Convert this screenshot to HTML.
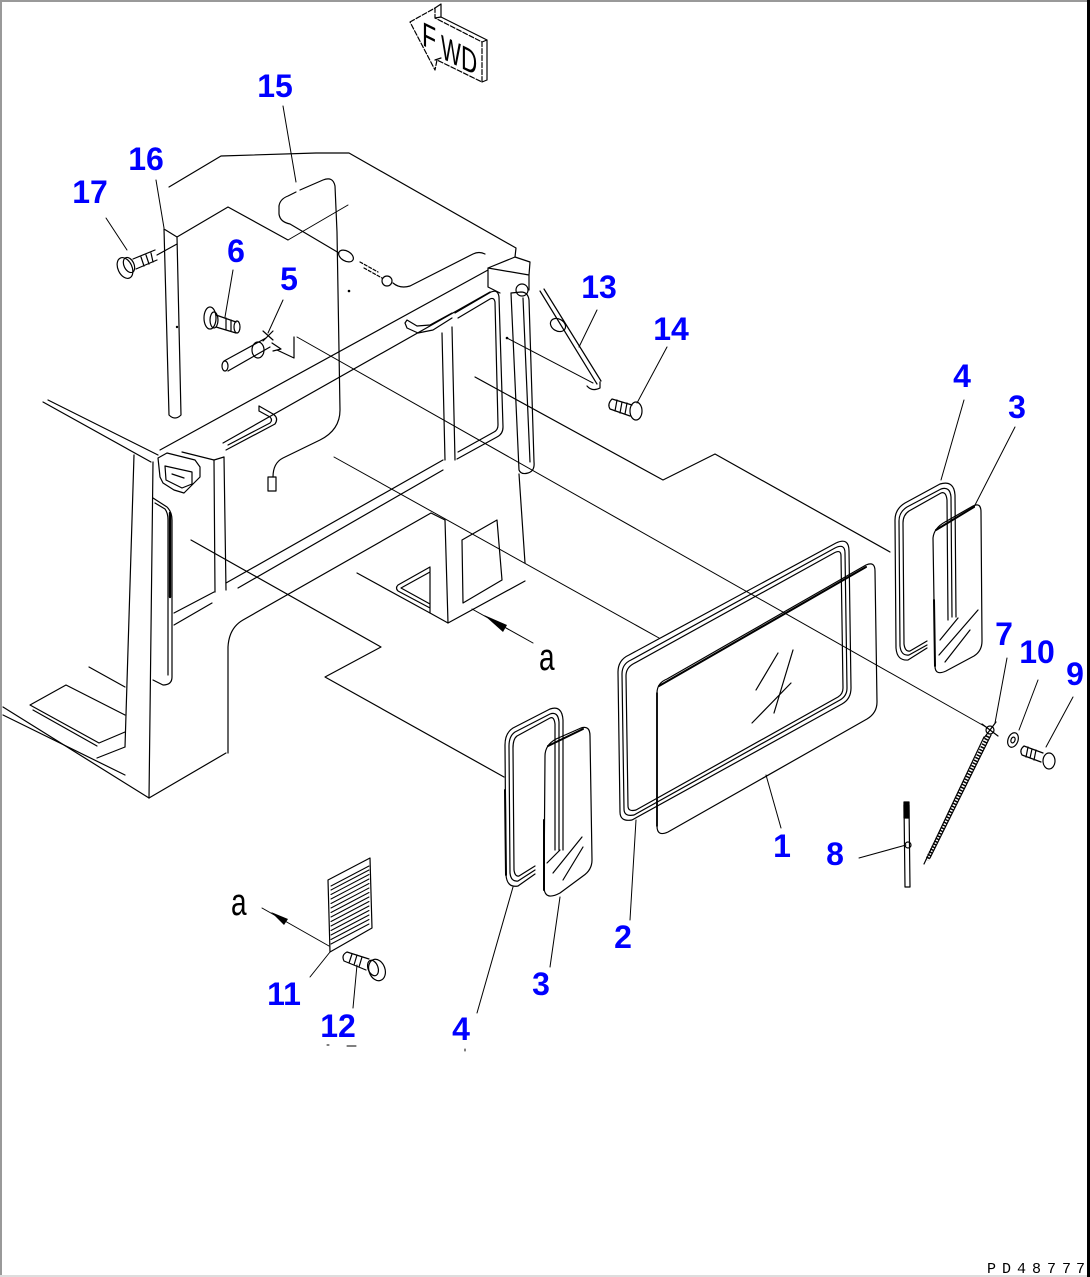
<!DOCTYPE html>
<html><head><meta charset="utf-8">
<style>
html,body{margin:0;padding:0;background:#fff;}
svg{display:block;}
.l{fill:none;stroke:#000;stroke-width:1.2;stroke-linejoin:round;stroke-linecap:round;}
.t{fill:none;stroke:#000;stroke-width:1;stroke-linecap:round;}
.n{font-family:"Liberation Sans",sans-serif;font-weight:bold;font-size:32px;fill:#0000ff;text-anchor:middle;}
.a{font-family:"Liberation Sans",sans-serif;font-size:28px;fill:#000;}
.f{font-family:"Liberation Sans",sans-serif;font-size:34px;fill:#000;}
</style></head><body>
<svg width="1090" height="1277" viewBox="0 0 1090 1277" xmlns="http://www.w3.org/2000/svg">
<rect width="1090" height="1277" fill="#fff"/>
<rect x="0" y="0" width="1090" height="2" fill="#999"/>
<rect x="0" y="0" width="2" height="1277" fill="#999"/>
<rect x="1087" y="0" width="3" height="1277" fill="#000"/>
<rect x="0" y="1275" width="1087" height="2" fill="#ddd"/>

<!-- FWD arrow -->
<g class="l">
<path d="M410,22 L435,8 L435,18 L482,42 L482,82 L437,60 L435,70 Z" stroke-dasharray="5 2"/>
<path d="M435,8 L441,4 L441,17 L487,40 L487,80 L482,82 M441,17 L435,18 M482,42 L487,40 M435,60 L441,58"/>
</g>
<text class="f" transform="translate(422,45) skewY(26) scale(0.68,1)">F</text>
<text class="f" transform="translate(441,58) skewY(26) scale(0.62,1)">W</text>
<text class="f" transform="translate(461,68) skewY(26) scale(0.66,1)">D</text>

<!-- Cab structure -->
<g class="l">
<polyline points="169,187 221,156 316,153 349,153 516,248 515,257"/>
<polyline points="177,237 228,207 288,240"/>
<path d="M164,229 L177,237 M164,229 L169,415 Q175,421 181,415 L177,237"/>
<path d="M279,206 L279,214 Q280,222 290,224 L339,253"/>
<path d="M279,206 Q280,199 288,196 L296,192 M300,190 L323,180 Q333,176 335,186 L337,232 L340,410 Q340,430 320,440 L283,458 Q273,463 273,477"/>
<rect x="268" y="477" width="8" height="14"/>
<ellipse cx="346" cy="256" rx="8" ry="5" transform="rotate(30 346 256)"/>
<path d="M360,262 L378,272 M364,268 L382,278" stroke-dasharray="3 2"/>
<circle cx="387" cy="281" r="5"/>
<path d="M393,283 Q400,289 410,286 L473,254 Q479,251 485,254"/>
<path d="M488,268 L515,257 L530,262 L529,275 M488,268 L529,275 L529,290 M488,268 L488,287 L500,293"/>
<circle cx="522" cy="290" r="6"/>
<line x1="160" y1="450" x2="488" y2="270"/>
<line x1="223" y1="443" x2="490" y2="292"/>
<path d="M259,406 L273,414 Q279,418 275,424 L226,450 M259,411 L270,417 Q273,420 270,423 L228,445 M259,406 L259,411"/>
<path d="M405,323 L407,328 L418,333 L433,330 L452,318 M405,323 L407,320 L417,326 L430,325 L452,313"/>
<path d="M442,333 L445,460 M452,327 L455,460"/>
<path d="M455,313 L491,292 Q498,289 499,297 L503,427 Q503,434 497,437 L457,459"/>
<path d="M458,318 L490,299 Q494,297 495,302 L498,425 Q498,430 494,432 L458,452"/>
<path d="M511,293 L519,470 Q521,475 528,473 Q535,471 534,462 L529,300 Q528,292 521,292 Z M523,298 L530,462"/>
<line x1="519" y1="474" x2="525" y2="563"/>
<line x1="43" y1="402" x2="151" y2="462"/>
<line x1="48" y1="400" x2="158" y2="455"/>
<line x1="134" y1="455" x2="125" y2="747"/>
<line x1="153" y1="462" x2="149" y2="798"/>
<line x1="149" y1="798" x2="226" y2="753"/>
<path d="M158,458 L167,453 L195,460 L200,467 L200,477 L184,493 L174,490 L163,483 L160,477 Z M165,466 L192,472 L192,484 M165,466 L166,480 L182,488 L192,484 M172,474 L184,478"/>
<path d="M182,452 L214,460 L224,457"/>
<path d="M153,498 L167,507 Q172,512 172,520 L172,677 Q172,685 163,685 L153,680"/>
<path d="M155,503 L165,509 Q168,513 168,520 L168,675"/>
<line x1="170" y1="513" x2="170" y2="597" stroke-width="2.4"/>
<path d="M214,460 L215,592 M224,457 L226,590"/>
<path d="M174,613 L214,592 M174,625 L212,603"/>
<line x1="226" y1="583" x2="443" y2="460"/>
<line x1="238" y1="588" x2="443" y2="470"/>
<path d="M228,753 L228,647 Q229,628 243,620 L431,513 L445,520"/>
<line x1="3" y1="707" x2="149" y2="798"/>
<line x1="3" y1="715" x2="125" y2="775"/>
<path d="M30,705 L66,685 L125,715 M30,705 L99,743 L125,732 M33,710 L97,746"/>
<line x1="89" y1="667" x2="125" y2="687"/>
<line x1="97" y1="758" x2="125" y2="747"/>
<path d="M445,520 L448,623 L525,581"/>
<path d="M430,567 L430,613 L448,623 M430,567 L398,585 Q395,588 398,591 L430,608 M430,572 L401,588 L430,604"/>
<line x1="357" y1="573" x2="430" y2="613"/>
<path d="M462,540 L497,520 L502,580 L463,603 Z"/>
<polyline points="191,540 381,647 325,677 504,777"/>
<polyline points="475,377 663,480 715,454 890,552"/>
</g>
<g class="t">
<line x1="288" y1="240" x2="348" y2="205"/>
<line x1="334" y1="457" x2="659" y2="638"/>
<line x1="297" y1="337" x2="986" y2="727"/>
<line x1="507" y1="338" x2="593" y2="383"/>
</g>
<circle cx="349" cy="291" r="1.3" fill="#000"/>
<circle cx="177" cy="327" r="1.2" fill="#000"/>
<circle cx="507" cy="338" r="1.3" fill="#000"/>

<!-- part 17 bolt -->
<g class="l">
<ellipse cx="125" cy="268" rx="7" ry="11" transform="rotate(-25 125 268)"/>
<ellipse cx="129" cy="265" rx="5" ry="8" transform="rotate(-25 129 265)"/>
<path d="M133,259 L155,250 M136,269 L157,260 M141,257 L144,266 M146,255 L149,264 M151,253 L153,262"/>
<line x1="157" y1="255" x2="177" y2="244"/>
</g>
<!-- part 6 bolt -->
<g class="l">
<ellipse cx="210" cy="318" rx="6" ry="11"/>
<ellipse cx="214" cy="320" rx="4" ry="8"/>
<path d="M216,315 L236,322 M216,327 L236,333 M226,318 L226,330 M231,320 L231,331"/>
<ellipse cx="237" cy="327" rx="3" ry="6"/>
</g>
<!-- part 5 latch -->
<g class="l">
<path d="M294,337 L294,358 L277,350"/>
<path d="M224,361 L266,338 M228,371 L270,347"/>
<ellipse cx="225" cy="366" rx="3" ry="5"/>
<ellipse cx="258" cy="350" rx="6" ry="8"/>
<path d="M263,331 L273,340 M273,331 L263,341 M272,343 L281,349 L273,351"/>
</g>
<!-- part 13 -->
<g class="l">
<path d="M540,291 L597,384 M544,289 L601,381"/>
<ellipse cx="558" cy="325" rx="8" ry="6" transform="rotate(30 558 325)"/>
<path d="M587,386 Q592,392 600,388 L600,382"/>
</g>
<!-- part 14 bolt -->
<g class="l">
<path d="M612,399 L632,405 M610,409 L630,416 M612,399 Q607,404 610,409 M617,400 L615,411 M622,402 L620,413 M627,403 L625,414"/>
<ellipse cx="636" cy="411" rx="6" ry="9"/>
</g>

<!-- Seal 4 right -->
<g class="l">
<path d="M956,617 L955,495 Q954,480 940,484 L905,503 Q895,509 895,520 L896,648 Q897,661 908,660 L927,648"/>
<path d="M952,617 L951,497 Q950,486 941,489 L907,507 Q899,512 899,521 L900,646 Q901,656 909,655 L927,645"/>
<path d="M948,620 L947,500 Q946,491 941,493 L909,511 Q903,515 903,523 L904,644 Q905,652 910,651 L927,641"/>
<path d="M933,538 Q934,528 945,522 L973,506 Q981,502 981,512 L982,641 Q982,651 974,656 L946,671 Q935,676 935,666 Z"/>
<path d="M936,530 L974,507" stroke-width="2"/>
<path d="M934,600 L935,666" stroke-width="2"/>
<path d="M939,655 L978,610 M945,662 L970,630 M940,640 L958,618"/>
</g>
<!-- Seal 4 left -->
<g class="l">
<path d="M563,850 L563,720 Q562,705 550,709 L513,728 Q505,733 505,745 L506,875 Q507,888 518,886 L535,874"/>
<path d="M559,850 L559,722 Q558,711 550,714 L515,732 Q509,736 509,746 L510,873 Q511,882 518,881 L535,870"/>
<path d="M555,850 L555,724 Q554,716 550,718 L517,736 Q513,739 513,748 L514,870 Q515,877 519,876 L535,866"/>
<path d="M505,790 L506,875" stroke-width="2"/>
<path d="M545,756 Q545,745 556,739 L581,728 Q590,725 590,736 L592,860 Q592,870 583,876 L560,893 Q545,901 544,888 Z"/>
<path d="M548,746 L583,729" stroke-width="2"/>
<path d="M544,820 L544,890" stroke-width="2"/>
<path d="M547,863 L560,850 M553,873 L582,837 M563,880 L583,847"/>
</g>
<!-- Seal 2 -->
<g class="l">
<path d="M618,672 Q618,660 629,655 L836,543 Q849,537 849,551 L851,688 Q851,699 842,704 L632,820 Q620,822 620,812 Z"/>
<path d="M622,674 Q622,664 631,660 L835,548 Q845,543 845,553 L847,688 Q847,696 840,700 L634,815 Q624,817 624,809 Z"/>
<path d="M626,676 Q626,668 633,664 L834,553 Q841,549 841,556 L843,688 Q843,694 838,697 L636,810 Q628,812 628,806 Z"/>
</g>
<!-- Glass 1 -->
<g class="l">
<path d="M657,693 Q657,683 667,679 L866,565 Q875,561 875,571 L877,702 Q877,713 867,719 L668,832 Q657,837 657,826 Z"/>
<path d="M659,686 L866,567" stroke-width="2"/>
<path d="M657,693 L657,826" stroke-width="1.8"/>
<path d="M756,690 L778,653 M752,723 L791,683 M774,713 L793,650"/>
</g>
<!-- Part 7 wiper arm -->
<g class="l">
<path d="M984,737 L924,864 M991,735 L930,858"/>
<path d="M988,736 L927,860" stroke-width="4" stroke-dasharray="1.5 1.5" stroke-linecap="butt"/>
<circle cx="990" cy="730" r="4"/>
<path d="M982,724 L998,736 M996,722 L984,738"/>
</g>
<!-- Part 8 blade -->
<g class="l">
<path d="M904,805 L905,887 L910,887 L909,805 Z"/>
<rect x="904" y="802" width="5" height="16" fill="#000"/>
<circle cx="908" cy="845" r="3"/>
</g>
<!-- Part 10 washer -->
<g class="l">
<ellipse cx="1013" cy="740" rx="5" ry="7.5" transform="rotate(20 1013 740)"/>
<ellipse cx="1013" cy="740" rx="2" ry="3" transform="rotate(20 1013 740)"/>
</g>
<!-- Part 9 bolt -->
<g class="l">
<path d="M1024,746 L1043,753 M1022,755 L1041,762 M1024,746 Q1019,750 1022,755 M1028,747 L1026,757 M1032,749 L1030,758 M1036,750 L1034,760"/>
<ellipse cx="1049" cy="761" rx="6" ry="8"/>
</g>
<!-- Part 11 grille -->
<g class="l">
<path d="M328,880 L370,858 L372,928 L330,952 Z"/>
</g>
<g class="t" stroke-width="0.9">
<line x1="331" y1="886" x2="369" y2="866"/>
<line x1="331" y1="890" x2="369" y2="870"/>
<line x1="331" y1="894.5" x2="369" y2="874.5"/>
<line x1="331" y1="899" x2="369" y2="879"/>
<line x1="331" y1="903.5" x2="369" y2="883.5"/>
<line x1="331" y1="908" x2="369" y2="888"/>
<line x1="331" y1="912.5" x2="369" y2="892.5"/>
<line x1="331" y1="917" x2="369" y2="897"/>
<line x1="331" y1="921.5" x2="369" y2="901.5"/>
<line x1="331" y1="926" x2="369" y2="906"/>
<line x1="331" y1="930.5" x2="369" y2="910.5"/>
<line x1="331" y1="935" x2="369" y2="915"/>
<line x1="331" y1="939.5" x2="369" y2="919.5"/>
<line x1="331" y1="944" x2="369" y2="924"/>
</g>
<!-- Part 12 bolt -->
<g class="l">
<path d="M347,952 L369,959 M344,961 L366,970 M347,952 Q341,955 344,961 M352,954 L349,963 M357,955 L354,965 M362,957 L359,967"/>
<ellipse cx="377" cy="970" rx="8" ry="11" transform="rotate(-20 377 970)"/>
<ellipse cx="373" cy="968" rx="5" ry="8" transform="rotate(-20 373 968)"/>
</g>

<!-- view arrows a -->
<g class="t">
<line x1="533" y1="643" x2="472" y2="609"/>
<line x1="329" y1="946" x2="262" y2="908"/>
</g>
<polygon points="484,615 507,625 503,632" fill="#000"/>
<polygon points="271,912 288,919 284,925" fill="#000"/>
<text class="a" transform="translate(539,670) scale(1,1.35)">a</text>
<text class="a" transform="translate(231,915) scale(1,1.35)">a</text>

<!-- leader lines -->
<g class="t">
<line x1="283" y1="106" x2="296" y2="182"/>
<line x1="156" y1="180" x2="164" y2="228"/>
<line x1="106" y1="218" x2="127" y2="250"/>
<line x1="233" y1="270" x2="225" y2="317"/>
<line x1="283" y1="300" x2="268" y2="333"/>
<line x1="597" y1="310" x2="579" y2="347"/>
<line x1="667" y1="347" x2="637" y2="403"/>
<line x1="964" y1="400" x2="941" y2="480"/>
<line x1="1015" y1="427" x2="974" y2="507"/>
<line x1="1007" y1="658" x2="995" y2="723"/>
<line x1="1038" y1="680" x2="1019" y2="730"/>
<line x1="1073" y1="697" x2="1046" y2="747"/>
<line x1="781" y1="828" x2="766" y2="775"/>
<line x1="859" y1="858" x2="906" y2="845"/>
<line x1="630" y1="920" x2="636" y2="820"/>
<line x1="550" y1="967" x2="560" y2="897"/>
<line x1="477" y1="1013" x2="513" y2="887"/>
<line x1="310" y1="977" x2="330" y2="952"/>
<line x1="353" y1="1008" x2="357" y2="965"/>
<line x1="327" y1="1045" x2="329" y2="1045"/>
<line x1="347" y1="1046" x2="356" y2="1046"/>
<line x1="465" y1="1049" x2="465" y2="1051"/>
</g>

<!-- labels -->
<text class="n" x="275" y="97">15</text>
<text class="n" x="146" y="170">16</text>
<text class="n" x="90" y="203">17</text>
<text class="n" x="236" y="262">6</text>
<text class="n" x="289" y="290">5</text>
<text class="n" x="599" y="298">13</text>
<text class="n" x="671" y="340">14</text>
<text class="n" x="962" y="387">4</text>
<text class="n" x="1017" y="418">3</text>
<text class="n" x="1004" y="645">7</text>
<text class="n" x="1037" y="663">10</text>
<text class="n" x="1075" y="685">9</text>
<text class="n" x="782" y="857">1</text>
<text class="n" x="835" y="865">8</text>
<text class="n" x="623" y="948">2</text>
<text class="n" x="284" y="1005">11</text>
<text class="n" x="338" y="1037">12</text>
<text class="n" x="541" y="995">3</text>
<text class="n" x="461" y="1040">4</text>

<!-- drawing number -->
<g font-family="Liberation Mono, monospace" font-size="15" fill="#000">
<text x="987" y="1273">P</text>
<text x="1002" y="1273">D</text>
<text x="1017" y="1273">4</text>
<text x="1032" y="1273">8</text>
<text x="1047" y="1273">7</text>
<text x="1062" y="1273">7</text>
<text x="1076" y="1273">7</text>
</g>
</svg>
</body></html>
